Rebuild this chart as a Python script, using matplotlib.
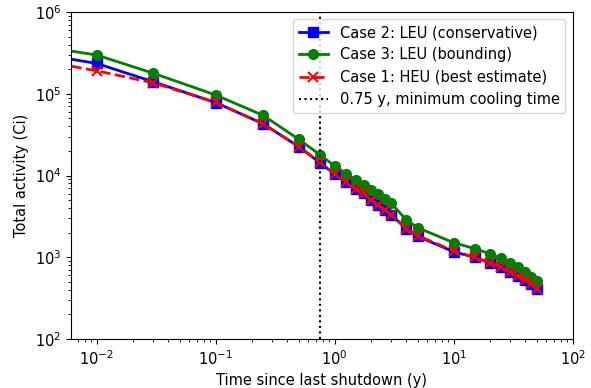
import matplotlib
matplotlib.use('Agg')
import matplotlib.pyplot as plt

# time since last shutdown (years); first point sits just left of the visible range
t = [0.001, 0.01, 0.03, 0.1, 0.25, 0.5, 0.75, 1.0, 1.25, 1.5, 1.75, 2.0, 7/3, 8/3, 3.0,
     4.0, 5.0, 10.0, 15.0, 20.0, 25.0, 30.0, 35.0, 40.0, 45.0, 50.0]

# total activity (Ci)
case2_leu_cons = [4.1e5, 2.35e5, 1.40e5, 7.8e4, 4.3e4, 2.25e4, 1.44e4, 1.04e4, 8.4e3, 6.8e3,
                  6.05e3, 5.0e3, 4.35e3, 3.78e3, 3.29e3,
                  2.23e3, 1.8e3, 1.17e3, 1.0e3, 857, 758, 665, 592, 527, 469, 409]
case3_leu_bound = [5.0e5, 2.98e5, 1.78e5, 9.66e4, 5.45e4, 2.77e4, 1.8e4, 1.31e4, 1.06e4, 8.8e3,
                   7.66e3, 6.65e3, 5.89e3, 5.12e3, 4.57e3,
                   2.86e3, 2.3e3, 1.51e3, 1.28e3, 1.11e3, 971, 850, 755, 665, 580, 514]
case1_heu_best = [3.5e5, 1.91e5, 1.36e5, 7.85e4, 4.3e4, 2.26e4, 1.45e4, 1.04e4, 8.4e3, 6.8e3,
                  6.05e3, 5.0e3, 4.35e3, 3.78e3, 3.29e3,
                  2.25e3, 1.84e3, 1.2e3, 1.0e3, 860, 758, 665, 592, 527, 469, 409]

min_cooling = 0.75

plt.rcParams['font.size'] = 10.5

fig = plt.figure(figsize=(5.91, 3.88), dpi=100)
ax = fig.add_axes([0.120, 0.126, 0.849, 0.843])

ax.plot(t, case2_leu_cons, 'b-s', lw=2, ms=7, label='Case 2: LEU (conservative)')
ax.plot(t, case3_leu_bound, 'g-o', lw=2, ms=7, label='Case 3: LEU (bounding)')
ax.plot(t, case1_heu_best, 'r--x', lw=2, ms=7, mew=1.5, label='Case 1: HEU (best estimate)')
ax.axvline(min_cooling, color='k', linestyle=':', lw=1.5, label='0.75 y, minimum cooling time')

ax.set_xscale('log')
ax.set_yscale('log')
ax.set_xlim(0.00607, 100)
ax.set_ylim(1e2, 1e6)
ax.set_xlabel('Time since last shutdown (y)')
ax.set_ylabel('Total activity (Ci)')
ax.legend(loc='upper right')

fig.savefig('out.png', dpi=100)
